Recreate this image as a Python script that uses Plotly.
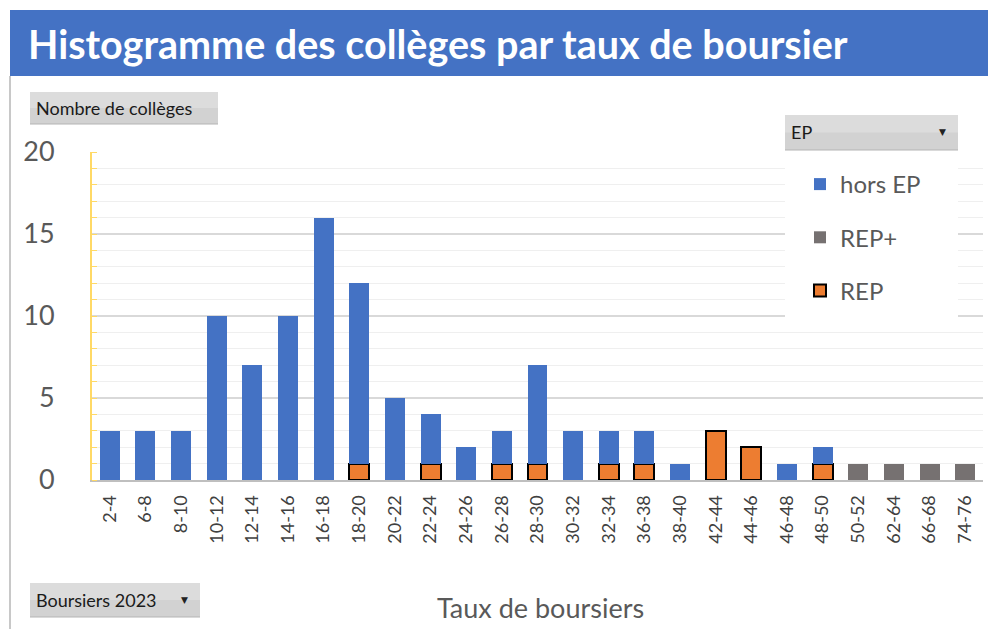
import plotly.graph_objects as go

categories = ["2-4", "6-8", "8-10", "10-12", "12-14", "14-16", "16-18", "18-20", "20-22",
              "22-24", "24-26", "26-28", "28-30", "30-32", "32-34", "36-38", "38-40",
              "42-44", "44-46", "46-48", "48-50", "50-52", "62-64", "66-68", "74-76"]
rep =     [0, 0, 0, 0, 0, 0, 0, 1, 0, 1, 0, 1, 1, 0, 1, 1, 0, 3, 2, 0, 1, 0, 0, 0, 0]
hors_ep = [3, 3, 3, 10, 7, 10, 16, 11, 5, 3, 2, 2, 6, 3, 2, 2, 1, 0, 0, 1, 1, 0, 0, 0, 0]
rep_plus = [0, 0, 0, 0, 0, 0, 0, 0, 0, 0, 0, 0, 0, 0, 0, 0, 0, 0, 0, 0, 0, 1, 1, 1, 1]
y_ticks = [0, 5, 10, 15, 20]

title_text = "Histogramme des collèges par taux de boursier"
x_title = "Taux de boursiers"

BLUE = "#4472C4"
ORANGE = "#ED7D31"
GREY = "#767171"
FONT = "Lato"

W, H = 988, 629
L, R, T, B = 92, 983, 152, 480


def px(x):
    return (x - L) / (R - L)


def py(y):
    return (B - y) / (B - T)


def nz(v):
    return [a if a else None for a in v]


fig = go.Figure()
fig.add_trace(go.Bar(x=categories, y=nz(rep), name="REP", marker=dict(color=ORANGE, line=dict(color="#000000", width=2)),
                     legendgroup="c", legendrank=3))
fig.add_trace(go.Bar(x=categories, y=nz(hors_ep), name="hors EP", marker=dict(color=BLUE, line=dict(width=0)),
                     legendgroup="a", legendrank=1))
fig.add_trace(go.Bar(x=categories, y=nz(rep_plus), name="REP+", marker=dict(color=GREY, line=dict(width=0)),
                     legendgroup="b", legendrank=2))

shapes = []
annotations = []

# title bar
shapes.append(dict(type="rect", xref="paper", yref="paper", x0=px(10), x1=px(990), y0=py(76), y1=py(10),
                   fillcolor="#4472C4", line=dict(width=0), layer="above"))
annotations.append(dict(text="<b>" + title_text + "</b>", xref="paper", yref="paper", x=px(26), y=py(43),
                        xanchor="left", yanchor="middle", showarrow=False,
                        font=dict(family=FONT, size=39.5, color="#FFFFFF")))
# left border line
shapes.append(dict(type="line", xref="paper", yref="paper", x0=px(10), x1=px(10), y0=py(629), y1=py(76),
                   line=dict(color="#C8C8C8", width=2), layer="above"))

# legend background covering gridlines
shapes.append(dict(type="rect", xref="paper", yref="paper", x0=px(785), x1=px(958), y0=py(318), y1=py(150),
                   fillcolor="#FFFFFF", line=dict(width=0), layer="above"))


def button(x0, x1, y0, y1, label, arrow):
    shapes.append(dict(type="rect", xref="paper", yref="paper", x0=px(x0), x1=px(x1), y0=py(y1), y1=py(y0),
                       fillcolor="#D2D2D2", line=dict(width=0), layer="above"))
    shapes.append(dict(type="rect", xref="paper", yref="paper", x0=px(x0), x1=px(x1), y0=py((y0 + y1) / 2), y1=py(y0),
                       fillcolor="#DCDCDC", line=dict(width=0), layer="above"))
    shapes.append(dict(type="line", xref="paper", yref="paper", x0=px(x0), x1=px(x1), y0=py(y1), y1=py(y1),
                       line=dict(color="#B4B4B4", width=1), layer="above"))
    annotations.append(dict(text=label, xref="paper", yref="paper", x=px(x0 + 4), y=py((y0 + y1) / 2),
                            xanchor="left", yanchor="middle", showarrow=False,
                            font=dict(family=FONT, size=18, color="#1A1A1A")))
    if arrow:
        annotations.append(dict(text="▼", xref="paper", yref="paper", x=px(x1 - 16), y=py((y0 + y1) / 2),
                                xanchor="center", yanchor="middle", showarrow=False,
                                font=dict(family="DejaVu Sans", size=9, color="#222222")))


button(30, 218, 92, 124, "Nombre de collèges", False)
button(785, 958, 115, 150, "EP", True)
button(30, 200, 583, 617, "Boursiers 2023", True)

annotations.append(dict(text=x_title, xref="paper", yref="paper", x=px(540), y=py(607),
                        xanchor="center", yanchor="middle", showarrow=False,
                        font=dict(family=FONT, size=27, color="#595959")))

fig.update_layout(
    width=W, height=H,
    margin=dict(l=L, r=W - R, t=T, b=H - B, pad=0),
    paper_bgcolor="#FFFFFF", plot_bgcolor="#FFFFFF",
    barmode="stack", bargap=0.44,
    showlegend=True,
    legend=dict(x=px(800), y=py(162), xanchor="left", yanchor="top",
                bgcolor="rgba(255,255,255,0)", traceorder="grouped", tracegroupgap=19,
                font=dict(family=FONT, size=24, color="#595959"), itemwidth=30),
    shapes=shapes, annotations=annotations,
    xaxis=dict(type="category", tickangle=-90, showgrid=False, showline=True, linecolor="#BFBFBF", linewidth=2,
               ticks="", tickfont=dict(family=FONT, size=18, color="#404040"), ticklabelstandoff=6,
               fixedrange=True),
    yaxis=dict(range=[0, 20], tickvals=y_ticks, showgrid=True, gridcolor="#D9D9D9", gridwidth=2,
               minor=dict(dtick=1, showgrid=True, gridcolor="#EFEFEF", gridwidth=1, ticks="inside",
                          ticklen=5, tickcolor="#FFD966"),
               showline=True, linecolor="#FFD966", linewidth=2, zeroline=False,
               tickfont=dict(family=FONT, size=27, color="#595959"), ticklabelstandoff=30,
               fixedrange=True),
)

fig.write_html("out.html", config={"displayModeBar": False},
               post_script="document.body.style.margin='0';document.body.style.overflow='hidden';")
